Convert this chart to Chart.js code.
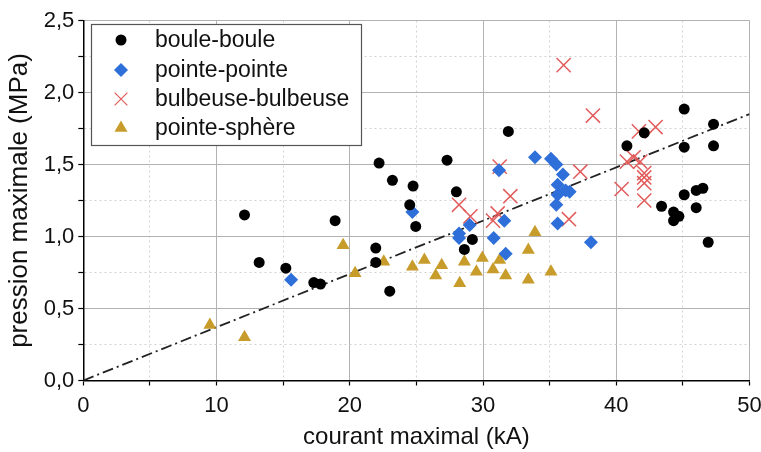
<!DOCTYPE html>
<html>
<head>
<meta charset="utf-8">
<script src="https://cdn.jsdelivr.net/npm/chart.js@4/dist/chart.umd.min.js"></script>
<style>
  html, body { margin: 0; padding: 0; background: #fff; }
  #wrap { width: 761px; height: 452px; position: relative; }
</style>
</head>
<body>
<div id="wrap"><canvas id="c" width="761" height="452"></canvas></div>
<script>
// courant maximal (kA) / pression maximale (MPa), per electrode pair
const bouleX = [12.1, 13.2, 15.2, 17.3, 17.8, 18.9, 21.95, 21.95, 22.2, 23.0, 23.2, 24.5, 24.75, 24.95, 27.3, 28.0, 28.6, 29.2, 31.9,
                40.8, 42.1, 43.4, 44.3, 44.3, 44.7, 45.1, 45.1, 45.1, 46.0, 46.0, 46.5, 46.9, 47.3, 47.3];
const bouleY = [1.15, 0.82, 0.78, 0.68, 0.67, 1.11, 0.92, 0.82, 1.51, 0.62, 1.39, 1.22, 1.35, 1.07, 1.53, 1.31, 0.91, 0.98, 1.73,
                1.63, 1.72, 1.21, 1.17, 1.11, 1.14, 1.885, 1.62, 1.29, 1.32, 1.20, 1.335, 0.96, 1.78, 1.63];

const pointeX = [15.6, 24.7, 28.2, 28.2, 29.0, 30.8, 31.2, 31.6, 31.7, 33.9, 35.1, 35.5, 36.0, 35.6, 36.2, 36.5, 35.6, 35.5, 35.6, 38.1];
const pointeY = [0.70, 1.17, 1.02, 0.99, 1.08, 0.99, 1.46, 1.11, 0.88, 1.55, 1.54, 1.50, 1.43, 1.36, 1.32, 1.31, 1.29, 1.22, 1.09, 0.96];

const bulbX = [28.2, 29.05, 30.75, 31.1, 31.25, 32.05, 36.05, 36.45, 37.3, 38.25, 40.4, 40.8, 41.3, 41.8, 41.7, 42.95, 42.1, 42.1, 42.1, 42.1];
const bulbY = [1.22, 1.14, 1.11, 1.16, 1.485, 1.28, 2.19, 1.12, 1.45, 1.84, 1.33, 1.52, 1.55, 1.52, 1.73, 1.76, 1.44, 1.41, 1.37, 1.25];

const sphereX = [9.5, 12.1, 19.5, 20.4, 22.55, 24.7, 25.6, 26.45, 26.9, 28.25, 28.6, 29.5, 29.95, 30.75, 31.25, 31.7, 33.4, 33.9, 33.4, 35.1];
const sphereY = [0.385, 0.30, 0.94, 0.745, 0.825, 0.79, 0.837, 0.73, 0.80, 0.675, 0.825, 0.755, 0.85, 0.77, 0.837, 0.73, 0.906, 1.03, 0.70, 0.755];

// linear trend through the origin
const trendX = [0, 50];
const trendY = [0, 1.85];

const seriesNames = ['boule-boule', 'pointe-pointe', 'bulbeuse-bulbeuse', 'pointe-sphère'];
const xTitle = 'courant maximal (kA)';
const yTitle = 'pression maximale (MPa)';

const pairs = (xs, ys) => xs.map((x, i) => ({ x, y: ys[i] }));

Chart.defaults.font.family = "'Liberation Sans', Arial, sans-serif";
Chart.defaults.color = '#111';

const FONT_TICK = 22;
const FONT_XTITLE = 24;
const FONT_YTITLE = 26;
const FONT_LEGEND = 23;

const majorX = v => Math.abs(v / 10 - Math.round(v / 10)) < 1e-6;
const majorY = v => Math.abs(v * 2 - Math.round(v * 2)) < 1e-6;

// boxed legend in the upper-left of the plot
const boxLegend = {
  id: 'boxLegend',
  afterDraw(chart) {
    const ctx = chart.ctx;
    const left = 91.5, top = 24.5, w = 270, h = 121;
    ctx.save();
    ctx.fillStyle = '#fff';
    ctx.fillRect(left, top, w, h);
    ctx.strokeStyle = '#555';
    ctx.lineWidth = 1.2;
    ctx.strokeRect(left, top, w, h);
    ctx.font = FONT_LEGEND + "px 'Liberation Sans', Arial, sans-serif";
    ctx.textBaseline = 'middle';
    ctx.textAlign = 'left';
    const rows = [40, 70, 99, 128];
    chart.data.datasets.slice(0, 4).forEach((ds, i) => {
      const y = rows[i];
      ctx.fillStyle = ds.backgroundColor;
      ctx.strokeStyle = ds.borderColor;
      Chart.helpers.drawPoint(ctx, {
        pointStyle: ds.pointStyle,
        radius: ds.legendRadius,
        borderWidth: ds.pointBorderWidth,
        rotation: 0
      }, 121, y);
      ctx.fillStyle = '#111';
      ctx.fillText(ds.label, 155, y + 1);
    });
    ctx.restore();
  }
};

new Chart(document.getElementById('c'), {
  type: 'scatter',
  data: {
    datasets: [
      { label: seriesNames[0], data: pairs(bouleX, bouleY), pointStyle: 'circle',
        backgroundColor: '#000', borderColor: '#000', pointRadius: 5.5, pointBorderWidth: 0, legendRadius: 5.5, order: 1 },
      { label: seriesNames[1], data: pairs(pointeX, pointeY), pointStyle: 'rectRot',
        backgroundColor: '#2f6fd9', borderColor: '#2f6fd9', pointRadius: 7, pointBorderWidth: 0, legendRadius: 7, order: 2 },
      { label: seriesNames[2], data: pairs(bulbX, bulbY), pointStyle: 'crossRot',
        backgroundColor: '#e25c5c', borderColor: '#e25c5c', pointRadius: 10, pointBorderWidth: 1.5, legendRadius: 9, order: 3 },
      { label: seriesNames[3], data: pairs(sphereX, sphereY), pointStyle: 'triangle',
        backgroundColor: '#c79c2a', borderColor: '#c79c2a', pointRadius: 7.5, pointBorderWidth: 0, legendRadius: 7.5, order: 4 },
      { type: 'line', label: 'trend', data: pairs(trendX, trendY), borderColor: '#222', borderWidth: 1.8,
        borderDash: [11, 4, 2, 4], pointRadius: 0, fill: false, order: 10 }
    ]
  },
  options: {
    responsive: false,
    animation: false,
    devicePixelRatio: 1,
    layout: { padding: { left: 0, top: 20.5, right: 11, bottom: 0 } },
    plugins: { legend: { display: false }, tooltip: { enabled: false } },
    scales: {
      x: {
        type: 'linear', min: 0, max: 50,
        ticks: {
          stepSize: 5, autoSkip: false, maxRotation: 0, padding: 7,
          font: { size: FONT_TICK },
          callback: v => majorX(v) ? String(Math.round(v)) : ''
        },
        grid: {
          color: c => (c.tick && majorX(c.tick.value)) ? '#b2b2b2' : '#d2d2d2',
          lineWidth: 1, tickLength: 5, tickColor: '#000', tickWidth: 1.2, tickBorderDash: []
        },
        border: { color: '#000', width: 1.5,
          dash: c => (c.tick && !majorX(c.tick.value)) ? [2, 3] : [] },
        title: { display: true, text: xTitle, font: { size: FONT_XTITLE }, color: '#111', padding: { top: 0, bottom: 0 } },
        afterFit(s) { s.height = 452 - 380.5; s.paddingLeft = 0; s.paddingRight = 0; }
      },
      y: {
        type: 'linear', min: 0, max: 2.5,
        ticks: {
          stepSize: 0.25, autoSkip: false, padding: 4,
          font: { size: FONT_TICK },
          callback: v => majorY(v) ? v.toFixed(1).replace('.', ',') : ''
        },
        grid: {
          color: c => (c.tick && majorY(c.tick.value)) ? '#b2b2b2' : '#d2d2d2',
          lineWidth: 1, tickLength: 5, tickColor: '#000', tickWidth: 1.2, tickBorderDash: []
        },
        border: { color: '#000', width: 1.5,
          dash: c => (c.tick && !majorY(c.tick.value)) ? [2, 3] : [] },
        title: { display: true, text: yTitle, font: { size: FONT_YTITLE }, color: '#111', padding: { top: 4, bottom: 0 } },
        afterFit(s) { s.width = 83.3; s.paddingTop = 0; s.paddingBottom = 0; }
      }
    }
  },
  plugins: [boxLegend]
});
</script>
</body>
</html>
